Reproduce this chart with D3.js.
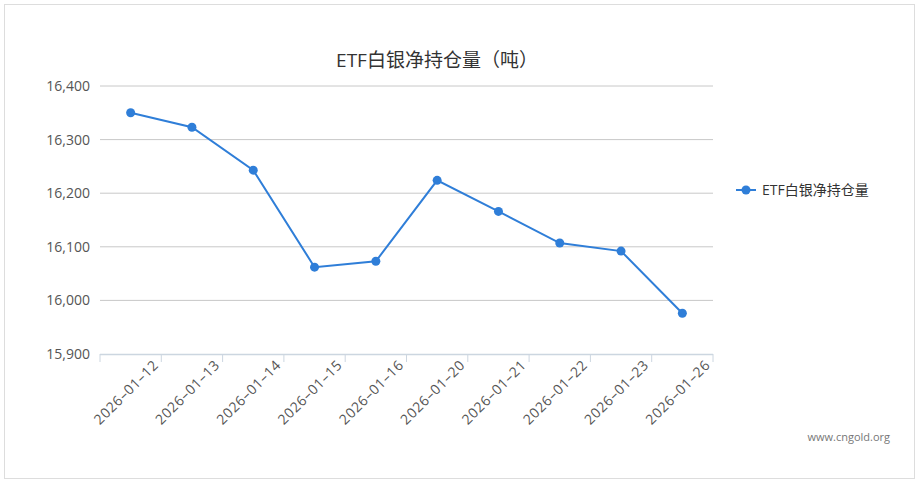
<!DOCTYPE html><html><head><meta charset="utf-8"><script src="https://cdn.jsdelivr.net/npm/d3@7"></script>
<style>body{margin:0;background:#fff}text{font-family:"Open Sans","Noto Sans CJK SC",sans-serif}</style></head><body><svg id="c" width="921" height="486"></svg>
<script>
const categories=["2026-01-12","2026-01-13","2026-01-14","2026-01-15","2026-01-16","2026-01-20","2026-01-21","2026-01-22","2026-01-23","2026-01-26"];
const values=[16350,16323,16243,16062,16073,16224,16166,16107,16092,15976];
const yTicks=[15900,16000,16100,16200,16300,16400];
const seriesName="ETF白银净持仓量";
const svg=d3.select("#c");
svg.append("rect").attr("x",4.5).attr("y",4.5).attr("width",910).attr("height",474).attr("fill","#fff").attr("stroke","#ddd");
const L=100,R=713,T=86,B=354;
const x=d3.scaleBand().domain(categories).range([L,R]);
const y=d3.scaleLinear().domain([15900,16400]).range([B,T]);
const g=svg.append("g");
yTicks.forEach(t=>{
 if(t>15900)g.append("line").attr("x1",L).attr("x2",R).attr("y1",y(t)).attr("y2",y(t)).attr("stroke","#c8c8c8");
 g.append("text").attr("x",90).attr("y",y(t)+5).attr("text-anchor","end").attr("font-size",14).attr("fill","#555").text(d3.format(",")(t));
});
g.append("line").attr("x1",L).attr("x2",R).attr("y1",B+0.5).attr("y2",B+0.5).attr("stroke","#ccd6e0").attr("stroke-width",1.5);
const ticks=[L,...categories.map(c=>x(c)+x.bandwidth())];
ticks.forEach(t=>g.append("line").attr("x1",t).attr("x2",t).attr("y1",B).attr("y2",B+8).attr("stroke","#ccd6e0"));
categories.forEach(c=>{
 const tx=x(c)+x.bandwidth()-2;
 g.append("text").attr("transform",`translate(${tx},${B+12}) rotate(-45)`).attr("text-anchor","end").attr("font-size",14).attr("letter-spacing",0.6).attr("fill","#555").text(c.replace(/-/g,"–"));
});
const cx=c=>x(c)+x.bandwidth()/2;
g.append("path").datum(values).attr("fill","none").attr("stroke","#2f7ed8").attr("stroke-width",2)
 .attr("d",d3.line().x((d,i)=>cx(categories[i])).y(d=>y(d)));
g.selectAll("circle.p").data(values).join("circle").attr("cx",(d,i)=>cx(categories[i])).attr("cy",d=>y(d)).attr("r",4.5).attr("fill","#2f7ed8");
svg.append("text").attr("x",437).attr("y",67).attr("text-anchor","middle").attr("font-size",19).attr("fill","#333").text("ETF白银净持仓量（吨）");
svg.append("line").attr("x1",736).attr("x2",756).attr("y1",190).attr("y2",190).attr("stroke","#2f7ed8").attr("stroke-width",2);
svg.append("circle").attr("cx",746).attr("cy",190).attr("r",4.5).attr("fill","#2f7ed8");
svg.append("text").attr("x",762).attr("y",195).attr("font-size",14).attr("fill","#333").text(seriesName);
svg.append("text").attr("x",890).attr("y",441).attr("text-anchor","end").attr("font-size",11).attr("fill","#777").text("www.cngold.org");
</script></body></html>
